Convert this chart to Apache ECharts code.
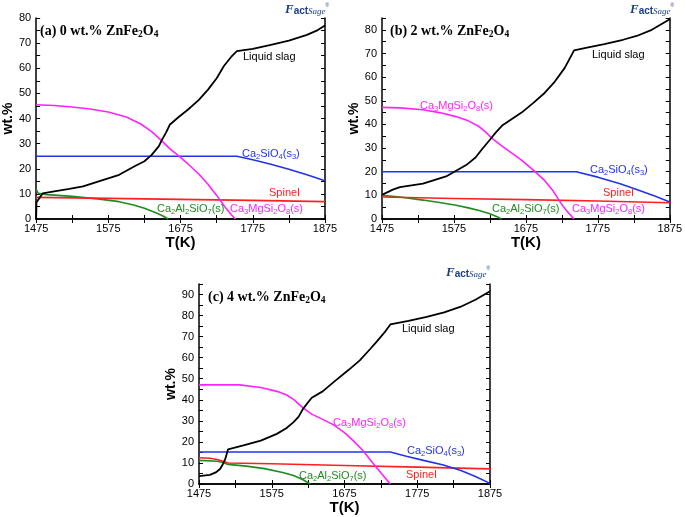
<!DOCTYPE html>
<html><head><meta charset="utf-8">
<script src="https://cdn.jsdelivr.net/npm/echarts@6/dist/echarts.min.js"></script>
<style>html,body{margin:0;padding:0;background:#fff}#c{width:685px;height:517px}</style>
</head><body><div id="c"></div>
<script>
// ---- Data (T in K, wt.%) ----
const xTicks = [1475, 1575, 1675, 1775, 1875];
const yMaxA = 80, yMaxB = 85, yMaxC = 95;

// Panel (a) 0 wt.% ZnFe2O4
const aLiquid = [[1475,0],[1475.5,6.7],[1484,10.2],[1500,11.0],[1521,12.0],[1540,13.0],[1566,15.4],[1590,17.6],[1612,21.1],[1625,23.0],[1635,25.5],[1645,29.0],[1649,31.4],[1655,34.5],[1660,37.5],[1672,40.5],[1685,43.5],[1700,47.3],[1713,51.5],[1725,56.0],[1735,60.9],[1745,64.5],[1753,66.8],[1775,67.7],[1800,69.3],[1825,71.0],[1850,73.3],[1865,75.2],[1875,77.0]];
const aMgSi = [[1475,45.5],[1500,45.2],[1525,44.6],[1550,43.8],[1575,42.6],[1600,40.6],[1620,37.8],[1635,34.8],[1648,31.4],[1660,28.0],[1672,25.2],[1685,22.0],[1700,18.0],[1713,13.8],[1725,9.4],[1735,5.4],[1745,1.8],[1751,0]];
const aCa2SiO4 = [[1475,25],[1753,25],[1775,23.6],[1800,21.8],[1825,19.8],[1850,17.6],[1875,15.2]];
const aSpinel = [[1475,8.6],[1575,8.2],[1675,7.8],[1775,7.4],[1875,6.9]];
const aGehlenite = [[1475,11.8],[1478,10.2],[1490,9.7],[1525,9.0],[1560,8.0],[1590,6.9],[1610,5.6],[1625,4.3],[1640,2.6],[1650,1.3],[1658,0]];

// Panel (b) 2 wt.% ZnFe2O4
const bLiquid = [[1475,10.2],[1490,12.4],[1500,13.5],[1532,15.0],[1564,18.0],[1592,22.8],[1605,26.0],[1614,29.5],[1625,33.5],[1633,36.5],[1642,39.5],[1655,42.2],[1669,45.0],[1685,49.0],[1701,53.3],[1715,58.0],[1729,63.9],[1742,71.3],[1760,72.5],[1784,74.0],[1810,75.8],[1829,77.4],[1850,80.0],[1875,84.5]];
const bMgSi = [[1475,47.2],[1500,47.0],[1532,46.2],[1555,45.0],[1578,43.3],[1595,41.5],[1610,39.1],[1620,36.5],[1628,34.1],[1642,30.8],[1655,28.0],[1669,24.9],[1685,20.8],[1701,16.3],[1713,11.8],[1724,6.6],[1733,3.0],[1742,0]];
const bCa2SiO4 = [[1475,20],[1745,20],[1775,17.7],[1806,14.9],[1830,12.4],[1855,9.6],[1875,7.2]];
const bSpinel = [[1475,9.3],[1575,8.7],[1675,8.2],[1775,7.6],[1875,6.9]];
const bGehlenite = [[1475,10.0],[1500,9.3],[1532,8.0],[1555,7.0],[1578,5.8],[1595,4.7],[1610,3.6],[1625,2.2],[1635,1.0],[1641,0]];

// Panel (c) 4 wt.% ZnFe2O4
const cLiquid = [[1475,3.7],[1490,4.3],[1498,5.5],[1504,7.1],[1508,9.5],[1511,11.8],[1515,16.5],[1536,18.3],[1560,20.6],[1582,23.8],[1595,26.5],[1605,29.4],[1612,32.0],[1618,35.7],[1625,38.8],[1630,41.0],[1645,44.0],[1660,48.4],[1680,54.0],[1696,58.7],[1710,64.0],[1719,67.5],[1730,72.0],[1738,75.8],[1763,77.5],[1788,79.4],[1812,81.5],[1834,84.1],[1855,87.5],[1875,91.6]];
const cMgSi = [[1475,47.1],[1531,47.1],[1560,45.8],[1582,44.0],[1595,42.4],[1605,40.2],[1618,36.2],[1630,33.2],[1645,30.7],[1660,28.1],[1675,24.4],[1687,20.6],[1700,16.0],[1715,9.5],[1727,4.5],[1738,0]];
const cCa2SiO4 = [[1475,15.2],[1738,15.2],[1760,13.2],[1785,11.1],[1811,9.0],[1835,6.4],[1855,3.6],[1875,0.3]];
const cSpinel = [[1475,12.5],[1490,12.2],[1500,11.6],[1508,10.8],[1515,10.0],[1575,9.6],[1675,8.8],[1775,8.0],[1875,7.2]];
const cGehlenite = [[1475,11.2],[1500,10.8],[1508,10.2],[1515,9.3],[1540,8.5],[1565,7.3],[1590,5.5],[1605,4.0],[1618,2.0],[1628,0]];

// ---- Chart ----
const SANS = "'Liberation Sans', Arial, sans-serif";
const SERIF = "'Liberation Serif', 'Times New Roman', serif";
const COL = {liq:'#000000', mg:'#ff22ff', c2s:'#2233ee', sp:'#ff2020', geh:'#1e8c1e'};

const grids = [
  {left:33, top:18, width:292, height:201},
  {left:382, top:18, width:292, height:201},
  {left:199, top:284, width:291, height:200}
];
const yMaxes = [yMaxA, yMaxB, yMaxC];

const xAxes = [], yAxes = [];
grids.forEach((g, i) => {
  xAxes.push({
    type:'value', gridIndex:i, min:xTicks[0], max:xTicks[xTicks.length-1], interval:50,
    position:'bottom', name:'T(K)', nameLocation:'middle', nameGap:14,
    nameTextStyle:{fontFamily:SANS, fontWeight:'bold', fontSize:15, color:'#000', verticalAlign:'top'},
    axisLine:{show:true, lineStyle:{color:'#000', width:1.5}},
    axisTick:{inside:true, length:4, lineStyle:{color:'#000'}},
    axisLabel:{fontFamily:SANS, fontSize:11, color:'#000', margin:4,
      formatter: v => xTicks.includes(v) ? String(v) : ''},
    splitLine:{show:false}
  });
  yAxes.push({
    type:'value', gridIndex:i, min:0, max:yMaxes[i], interval:5,
    name:'wt.%', nameLocation:'middle', nameGap:19, nameRotate:90,
    nameTextStyle:{fontFamily:SANS, fontWeight:'bold', fontSize:14, color:'#000'},
    axisLine:{show:true, lineStyle:{color:'#000', width:1.5}},
    axisTick:{inside:true, length:4, lineStyle:{color:'#000'}},
    axisLabel:{fontFamily:SANS, fontSize:11, color:'#000', margin:5,
      formatter: v => (v % 10 === 0) ? String(v) : ''},
    splitLine:{show:false}
  });
});
grids.forEach((g, i) => {
  xAxes.push({
    type:'value', gridIndex:i, min:xTicks[0], max:xTicks[xTicks.length-1], interval:50, position:'top',
    axisLine:{show:true, lineStyle:{color:'#000', width:1.5}},
    axisTick:{inside:true, length:4, lineStyle:{color:'#000'}},
    axisLabel:{show:false}, splitLine:{show:false}
  });
  yAxes.push({
    type:'value', gridIndex:i, min:0, max:yMaxes[i], interval:5, position:'right',
    axisLine:{show:true, lineStyle:{color:'#000', width:1.5}},
    axisTick:{inside:true, length:4, lineStyle:{color:'#000'}},
    axisLabel:{show:false}, splitLine:{show:false}
  });
});

function line(data, color, idx, w) {
  return {type:'line', data, xAxisIndex:idx, yAxisIndex:idx, showSymbol:false, symbol:'none',
    lineStyle:{color, width:w||1.6}, silent:true, animation:false, z:3};
}
const panels = [
  [aLiquid, aMgSi, aCa2SiO4, aSpinel, aGehlenite],
  [bLiquid, bMgSi, bCa2SiO4, bSpinel, bGehlenite],
  [cLiquid, cMgSi, cCa2SiO4, cSpinel, cGehlenite]
];
const series = [];
panels.forEach((p, i) => {
  series.push(line(p[4], COL.geh, i));
  series.push(line(p[3], COL.sp, i));
  series.push(line(p[2], COL.c2s, i));
  series.push(line(p[1], COL.mg, i));
  series.push(line(p[0], COL.liq, i, 1.8));
});

function label(x, y, text, color) {
  return {type:'text', left:x, top:y - 7, z:10, silent:true,
    style:{text, fill:color, font:'11px ' + SANS, lineHeight:14,
      rich:{s:{fontSize:7.5, fontFamily:SANS, verticalAlign:'bottom', lineHeight:9, fill:color}}}};
}
function title(x, y, text) {
  return {type:'text', left:x, top:y - 9, z:10, silent:true,
    style:{text, fill:'#000', font:'bold 14px ' + SERIF, lineHeight:17,
      rich:{s:{fontSize:9.5, fontWeight:'bold', fontFamily:SERIF, verticalAlign:'bottom', lineHeight:10, fill:'#000'}}}};
}
function logo(x, y) {
  return {type:'text', left:x, top:y, z:10, silent:true,
    style:{text:'{f|F}{a|act}{g|Sage}{r|®}', fill:'#1b3f86',
      rich:{
        f:{fontSize:13, fontWeight:'bold', fontStyle:'italic', fontFamily:SERIF, fill:'#1b3f86', verticalAlign:'bottom'},
        a:{fontSize:10, fontWeight:'bold', fontFamily:SANS, fill:'#1b3f86', verticalAlign:'bottom'},
        g:{fontSize:9, fontStyle:'italic', fontFamily:SERIF, fill:'#1b3f86', verticalAlign:'bottom'},
        r:{fontSize:5, fontFamily:SANS, fill:'#1b3f86', verticalAlign:'top'}
      }}};
}
const MG = 'Ca{s|3}MgSi{s|2}O{s|8}(s)';
const C2S = 'Ca{s|2}SiO{s|4}(s{s|3})';
const GEH = 'Ca{s|2}Al{s|2}SiO{s|7}(s)';

const graphics = [
  title(40, 32, '(a) 0 wt.% ZnFe{s|2}O{s|4}'),
  title(390, 32, '(b) 2 wt.% ZnFe{s|2}O{s|4}'),
  title(208, 298, '(c) 4 wt.% ZnFe{s|2}O{s|4}'),
  logo(285, 3), logo(630, 3), logo(446, 266),
  label(243, 57, 'Liquid slag', '#000'),
  label(242, 154, C2S, COL.c2s),
  label(269, 193, 'Spinel', COL.sp),
  label(157, 209, GEH, COL.geh),
  label(230, 209, MG, COL.mg),
  label(592, 55, 'Liquid slag', '#000'),
  label(420, 106, MG, COL.mg),
  label(590, 170, C2S, COL.c2s),
  label(603, 193, 'Spinel', COL.sp),
  label(492, 209, GEH, COL.geh),
  label(572, 209, MG, COL.mg),
  label(402, 329, 'Liquid slag', '#000'),
  label(333, 423, MG, COL.mg),
  label(407, 451, C2S, COL.c2s),
  label(406, 475, 'Spinel', COL.sp),
  label(299, 476, GEH, COL.geh)
];

const chart = echarts.init(document.getElementById('c'), null, {renderer:'canvas'});
chart.setOption({
  backgroundColor:'#ffffff',
  animation:false,
  grid: grids,
  xAxis: xAxes,
  yAxis: yAxes,
  series,
  graphic: graphics
});
</script></body></html>
